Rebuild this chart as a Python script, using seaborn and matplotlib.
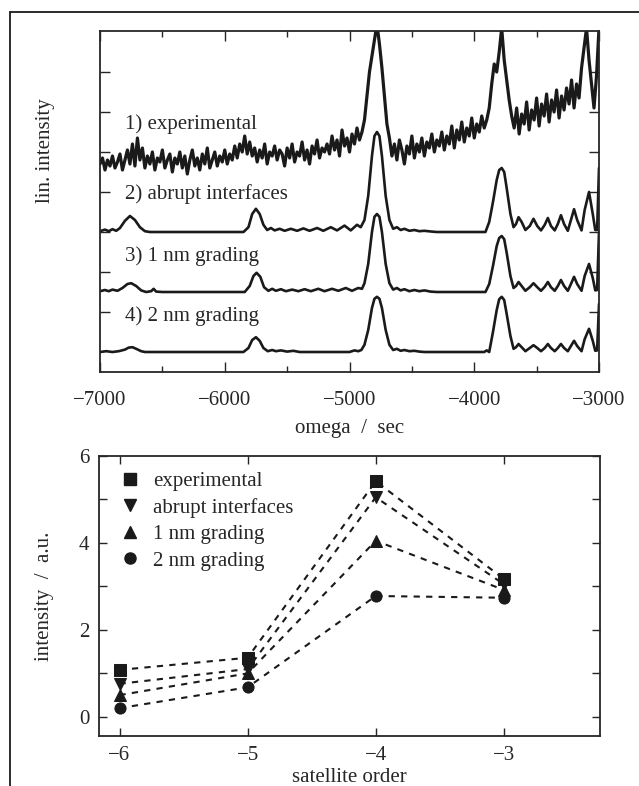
import numpy as np
import pandas as pd
import matplotlib.pyplot as plt
from matplotlib.lines import Line2D
import seaborn as sns

# ---------------------------------------------------------------
# data
# ---------------------------------------------------------------
# top panel: rocking curves (intensity in arbitrary units, above each baseline)
omega_exp = np.arange(-7000, -2999, 20)
int_exp = [
    0.20, 0.35, 0.05, 0.30, 0.15, 0.40, 0.10, 0.25, 0.45, 0.05, 0.30,
    0.55, 0.20, 0.70, 0.15, 0.85, 0.30, 0.60, 0.10, 0.40, 0.20, 0.50, 0.05, 0.35, 0.25, 0.55, 0.10, 0.30, 0.45, 0.00, 0.35,
    0.20, 0.50, 0.10, 0.40, -0.05, 0.30, 0.55, 0.15, 0.35, 0.05, 0.45, 0.20, 0.60, 0.10, 0.30, 0.50, 0.15, 0.40, 0.25, 0.55,
    0.20, 0.45, 0.30, 0.65, 0.35, 0.70, 0.50, 0.90, 0.45, 0.75, 0.40, 0.60, 0.25, 0.55, 0.35, 0.70, 0.20, 0.50, 0.40, 0.65,
    0.30, 0.55, 0.45, 0.15, 0.60, 0.35, 0.70, 0.25, 0.50, 0.40, 0.75, 0.30, 0.55, 0.20, 0.65, 0.45, 0.80, 0.35, 0.60, 0.50,
    0.70, 0.45, 0.90, 0.55, 0.80, 0.40, 1.05, 0.65, 0.85, 0.50, 0.95, 0.70, 1.10, 0.80, 1.00,
    1.30, 1.90, 2.50, 2.90, 3.30, 3.70, 3.20, 2.60, 1.90, 1.20,
    0.85, 0.40, 0.70, 0.30, 0.80, 0.55, 0.20, 0.65, 0.45, 0.90, 0.35, 0.70, 0.50, 0.85, 0.40, 0.75, 0.60, 0.95, 0.50, 0.80,
    0.65, 1.00, 0.55, 0.90, 0.70, 1.15, 0.60, 1.05, 0.80, 1.25, 0.75, 1.10, 0.90, 1.35, 0.85, 1.20, 1.00, 1.40, 1.10, 1.30,
    1.60, 2.20, 2.70, 2.50, 3.00, 3.60, 2.80, 2.30, 1.80, 1.40,
    1.10, 1.60, 0.95, 1.45, 1.20, 1.75, 1.05, 1.55, 1.30, 1.85, 1.15, 1.70, 1.40, 1.95, 1.25, 1.80, 1.50, 2.05, 1.35, 1.90,
    1.55, 2.10, 1.70, 2.30, 1.60, 2.20, 1.85, 2.60, 3.10, 3.60, 2.80, 2.20, 1.60, 2.40, 3.60,
]

omega_abrupt = [
    -7000, -6960, -6930, -6900, -6870, -6840, -6800, -6760, -6720, -6680, -6640, -6600,
    -5850, -5810, -5780, -5750, -5720, -5690, -5660, -5630, -5600, -5560, -5520, -5470,
    -5420, -5370, -5320, -5260, -5210, -5150, -5100, -5040, -4990, -4940, -4910, -4880,
    -4850, -4820, -4800, -4780, -4760, -4740, -4710, -4680, -4650, -4620, -4590, -4560,
    -4520, -4480, -4440, -4400, -4340, -4300, -3910, -3880, -3850, -3820, -3800, -3780,
    -3760, -3740, -3710, -3685, -3665, -3645, -3620, -3590, -3555, -3525, -3495, -3465,
    -3435, -3410, -3385, -3355, -3330, -3305, -3280, -3250, -3225, -3200, -3175, -3140,
    -3115, -3080, -3050, -3030, -3015, -3000,
]
int_abrupt = [
    0.02, 0.06, 0.02, 0.07, 0.03, 0.10, 0.28, 0.40, 0.30, 0.12, 0.02, 0.00,
    0.00, 0.12, 0.45, 0.58, 0.45, 0.18, 0.05, 0.10, 0.04, 0.08, 0.03, 0.08,
    0.03, 0.09, 0.03, 0.10, 0.03, 0.12, 0.04, 0.16, 0.04, 0.18, 0.12, 0.30,
    0.90, 1.90, 2.40, 2.50, 2.40, 1.90, 0.90, 0.30, 0.08, 0.12, 0.05, 0.08,
    0.03, 0.05, 0.02, 0.03, 0.01, 0.00, 0.00, 0.25, 0.75, 1.30, 1.55, 1.60,
    1.50, 1.10, 0.45, 0.12, 0.20, 0.37, 0.25, 0.05, 0.15, 0.33, 0.15, 0.04,
    0.18, 0.35, 0.15, 0.04, 0.20, 0.42, 0.20, 0.03, 0.30, 0.57, 0.30, 0.04,
    0.55, 1.00, 0.45, 0.05, 0.05, 1.60,
]

omega_1nm = [
    -7000, -6960, -6930, -6900, -6860, -6820, -6780, -6750, -6710, -6670, -6630, -6590,
    -6570, -6550, -6500, -5840, -5800, -5770, -5745, -5715, -5685, -5650, -5620, -5590,
    -5550, -5510, -5460, -5410, -5360, -5310, -5250, -5200, -5140, -5090, -5030, -4980,
    -4930, -4900, -4880, -4850, -4820, -4800, -4780, -4760, -4740, -4710, -4680, -4650,
    -4620, -4590, -4560, -4520, -4480, -4440, -4400, -4350, -4300, -3910, -3880, -3850,
    -3820, -3800, -3780, -3760, -3740, -3710, -3685, -3665, -3645, -3620, -3590, -3555,
    -3525, -3495, -3465, -3435, -3410, -3385, -3355, -3330, -3305, -3280, -3250, -3225,
    -3200, -3175, -3140, -3115, -3080, -3050, -3030, -3015, -3000,
]
int_1nm = [
    0.02, 0.05, 0.02, 0.06, 0.03, 0.10, 0.20, 0.22, 0.15, 0.04, 0.00, 0.02,
    0.08, 0.01, 0.00, 0.00, 0.15, 0.40, 0.48, 0.38, 0.12, 0.03, 0.08, 0.03,
    0.07, 0.02, 0.06, 0.02, 0.07, 0.02, 0.08, 0.02, 0.08, 0.03, 0.10, 0.03,
    0.10, 0.08, 0.22, 0.70, 1.50, 1.88, 1.95, 1.88, 1.50, 0.70, 0.22, 0.06,
    0.10, 0.04, 0.07, 0.02, 0.05, 0.02, 0.04, 0.01, 0.00, 0.00, 0.20, 0.65,
    1.15, 1.35, 1.40, 1.32, 0.98, 0.40, 0.10, 0.15, 0.25, 0.15, 0.03, 0.12,
    0.22, 0.12, 0.03, 0.13, 0.25, 0.12, 0.03, 0.15, 0.30, 0.15, 0.03, 0.20,
    0.38, 0.20, 0.03, 0.40, 0.70, 0.35, 0.04, 0.05, 1.50,
]

omega_2nm = [
    -7000, -6950, -6900, -6850, -6800, -6770, -6740, -6710, -6670, -6640, -5850, -5810,
    -5780, -5750, -5720, -5690, -5655, -5620, -5590, -5550, -5500, -5450, -5400, -5000,
    -4960, -4930, -4905, -4880, -4850, -4820, -4800, -4780, -4760, -4740, -4710, -4680,
    -4650, -4620, -4590, -4560, -4520, -4480, -4440, -4400, -3920, -3900, -3880, -3850,
    -3820, -3800, -3780, -3760, -3740, -3710, -3685, -3665, -3645, -3620, -3590, -3555,
    -3525, -3495, -3465, -3435, -3410, -3385, -3355, -3330, -3305, -3280, -3250, -3225,
    -3200, -3175, -3140, -3115, -3080, -3050, -3030, -3015, -3000,
]
int_2nm = [
    0.00, 0.02, 0.00, 0.02, 0.06, 0.11, 0.12, 0.08, 0.02, 0.00, 0.00, 0.10,
    0.30, 0.37, 0.28, 0.10, 0.02, 0.05, 0.02, 0.04, 0.01, 0.03, 0.00, 0.00,
    0.04, 0.02, 0.05, 0.18, 0.55, 1.10, 1.33, 1.38, 1.33, 1.10, 0.55, 0.18,
    0.05, 0.08, 0.03, 0.05, 0.02, 0.03, 0.01, 0.00, 0.00, 0.04, 0.00, 0.50,
    1.05, 1.32, 1.38, 1.30, 0.95, 0.40, 0.08, 0.12, 0.20, 0.12, 0.02, 0.10,
    0.17, 0.10, 0.02, 0.10, 0.20, 0.10, 0.02, 0.10, 0.20, 0.10, 0.02, 0.15,
    0.28, 0.15, 0.02, 0.32, 0.58, 0.28, 0.03, 0.04, 1.20,
]

curve_labels = ["1) experimental", "2) abrupt interfaces", "3) 1 nm grading", "4) 2 nm grading"]

# bottom panel: satellite intensities
satellite_order = [-6, -5, -4, -3]
sat_exp = [1.08, 1.36, 5.42, 3.17]
sat_abrupt = [0.76, 1.10, 5.05, 3.05]
sat_1nm = [0.50, 1.00, 4.05, 2.92]
sat_2nm = [0.20, 0.68, 2.78, 2.74]
series_names = ["experimental", "abrupt interfaces", "1 nm grading", "2 nm grading"]

# ---------------------------------------------------------------
# style
# ---------------------------------------------------------------
sns.set_theme(style="ticks")
plt.rcParams['font.family'] = ['Liberation Serif', 'DejaVu Serif']
FS = 15

fig = plt.figure(figsize=(6.39, 7.86), dpi=100)

# outer frame (only top and left edges visible in the scan)
fig.add_artist(Line2D([10 / 639, 1.0], [1 - 12 / 786, 1 - 12 / 786], color='k', lw=1.3, transform=fig.transFigure))
fig.add_artist(Line2D([10 / 639, 10 / 639], [0.0, 1 - 12 / 786], color='k', lw=1.3, transform=fig.transFigure))

# ---------------------------------------------------------------
# top panel
# ---------------------------------------------------------------
ax1 = fig.add_axes([100 / 639, 1 - 372 / 786, 499 / 639, 341 / 786])

offsets = [5.0, 3.5, 2.0, 0.5]
curves = [
    (omega_exp, int_exp, 2.3),
    (omega_abrupt, int_abrupt, 1.9),
    (omega_1nm, int_1nm, 1.9),
    (omega_2nm, int_2nm, 1.9),
]
for (om, it, lw), off in zip(curves, offsets):
    d = pd.DataFrame({'omega': om, 'intensity': np.asarray(it) + off})
    sns.lineplot(data=d, x='omega', y='intensity', ax=ax1, color='k', lw=lw,
                 estimator=None, sort=False)

label_y = [6.2, 4.45, 2.9, 1.4]
for txt, yy in zip(curve_labels, label_y):
    ax1.text(-6800, yy, txt, fontsize=FS, va='center', ha='left')

ax1.set_xlim(-7000, -3000)
ax1.set_ylim(0, 8.525)
ax1.set_xticks([-7000, -6000, -5000, -4000, -3000])
ax1.set_xticks([-6500, -5500, -4500, -3500], minor=True)
ax1.set_yticks([1.5, 2.5, 3.5, 4.5, 5.5, 6.5, 7.5])
ax1.set_yticklabels([])
ax1.tick_params(which='both', direction='in', top=True, right=True, width=1, labelsize=FS, pad=14)
ax1.tick_params(which='major', length=7)
ax1.tick_params(which='minor', length=4)
ax1.set_xlabel('omega  /  sec', fontsize=FS, labelpad=6)
ax1.set_ylabel('lin. intensity', fontsize=FS)
ax1.yaxis.set_label_coords(-0.09, 0.65)
for s in ax1.spines.values():
    s.set_linewidth(1.3)

# ---------------------------------------------------------------
# bottom panel
# ---------------------------------------------------------------
ax2 = fig.add_axes([99 / 639, 1 - 736 / 786, 501 / 639, 280 / 786])

df = pd.DataFrame({
    'order': satellite_order * 4,
    'intensity': sat_exp + sat_abrupt + sat_1nm + sat_2nm,
    'series': sum([[n] * 4 for n in series_names], []),
})
markers = ['s', 'v', '^', 'o']
sns.lineplot(data=df, x='order', y='intensity', hue='series', style='series',
             palette=['k'] * 4, markers=markers, dashes=[(3, 3)] * 4,
             markersize=8, markeredgecolor='k', lw=1.5, ax=ax2, legend=False)

handles = [Line2D([], [], ls='none', marker=m, color='k', markersize=8) for m in markers]
ax2.legend(handles, series_names, loc='upper left', frameon=False, fontsize=FS,
           handlelength=0.6, handletextpad=0.8, labelspacing=0.33,
           borderaxespad=0.2, bbox_to_anchor=(0.025, 0.99))

ax2.set_xlim(-6.16, -2.25)
ax2.set_ylim(-0.44, 6)
ax2.set_xticks(satellite_order)
ax2.set_yticks([0, 2, 4, 6])
ax2.set_yticks([1, 3, 5], minor=True)
ax2.tick_params(which='both', direction='in', top=True, right=True, width=1, labelsize=FS, pad=7)
ax2.tick_params(which='major', length=6)
ax2.tick_params(which='minor', length=6)
ax2.set_xlabel('satellite order', fontsize=FS, labelpad=2)
ax2.set_ylabel('intensity  /  a.u.', fontsize=FS)
ax2.yaxis.set_label_coords(-0.09, 0.5)
for s in ax2.spines.values():
    s.set_linewidth(1.3)

fig.savefig('out.png', dpi=100)
